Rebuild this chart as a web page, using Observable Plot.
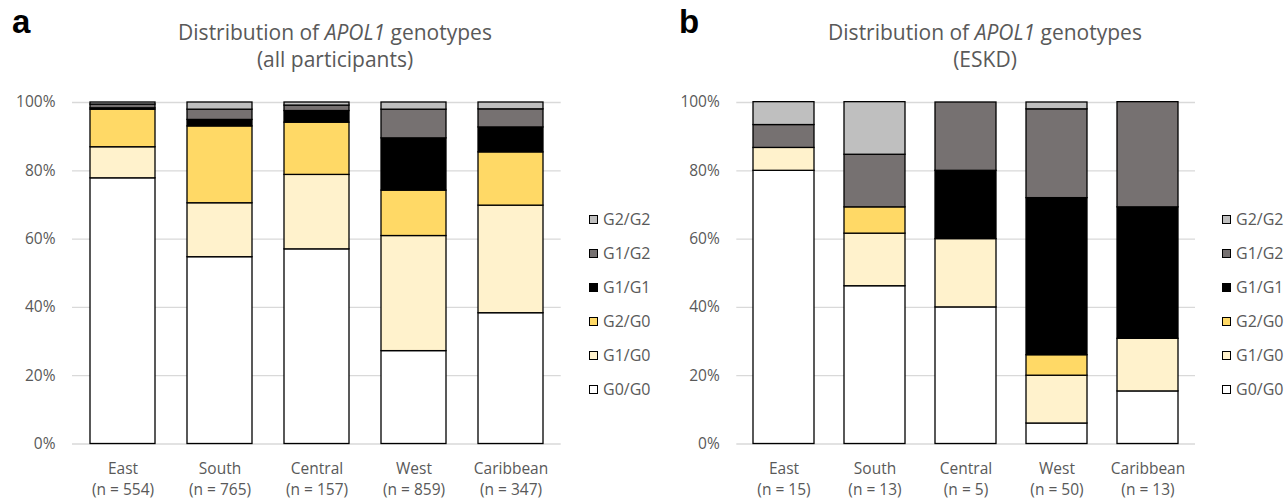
<!DOCTYPE html>
<html>
<head>
<meta charset="utf-8">
<script src="https://cdn.jsdelivr.net/npm/d3@7"></script>
<script src="https://cdn.jsdelivr.net/npm/@observablehq/plot@0.6"></script>
<style>
  html, body { margin: 0; padding: 0; background: #fff; }
  #root { position: relative; width: 1288px; height: 499px; overflow: hidden; font-family: "Open Sans", sans-serif; color: #595959; }
  .panel { position: absolute; top: 0; }
  .title { position: absolute; font-size: 21px; line-height: 27px; white-space: nowrap; transform: translateX(-50%); text-align: center; color: #595959; }
  .letter { position: absolute; font-family: "Liberation Sans", Arial, sans-serif; font-weight: bold; font-size: 33px; line-height: 33px; color: #000; }
  .legend { position: absolute; font-size: 16px; color: #595959; }
  .legend .item { display: flex; align-items: center; height: 34px; }
  .legend .sw { width: 7px; height: 7px; border: 1px solid #000; margin-right: 5px; box-sizing: content-box; }
</style>
</head>
<body>
<div id="root"></div>
<script>
// ---- data ----
const regions = ["East", "South", "Central", "West", "Caribbean"];
const genotypes = ["G0/G0", "G1/G0", "G2/G0", "G1/G1", "G1/G2", "G2/G2"];
const genotypeColors = ["#ffffff", "#fff2cc", "#ffd966", "#000000", "#767171", "#bfbfbf"];
const yTicks = [0, 20, 40, 60, 80, 100];

// Panel a: all participants (% of each region)
const nAll = [554, 765, 157, 859, 347];
const allG0G0 = [77.8, 54.7, 57.0, 27.2, 38.3];
const allG1G0 = [9.1, 15.8, 21.8, 33.7, 31.5];
const allG2G0 = [11.0, 22.5, 15.3, 13.3, 15.6];
const allG1G1 = [0.4, 1.9, 3.4, 15.3, 7.3];
const allG1G2 = [1.1, 3.0, 1.6, 8.4, 5.3];
const allG2G2 = [0.6, 2.1, 0.9, 2.1, 2.0];

// Panel b: ESKD (% of each region)
const nEskd = [15, 13, 5, 50, 13];
const eskdG0G0 = [80.0, 46.2, 40.0, 6.0, 15.4];
const eskdG1G0 = [6.7, 15.4, 20.0, 14.0, 15.4];
const eskdG2G0 = [0, 7.7, 0, 6.0, 0];
const eskdG1G1 = [0, 0, 20.0, 46.0, 38.5];
const eskdG1G2 = [6.7, 15.4, 20.0, 26.0, 30.8];
const eskdG2G2 = [6.7, 15.4, 0, 2.0, 0];

function toLong(series) {
  const rows = [];
  regions.forEach((r, i) => {
    genotypes.forEach((g, j) => {
      const v = series[j][i];
      if (v > 0) rows.push({region: r, genotype: g, value: v});
    });
  });
  return rows;
}

function chart(series, ns, opts) {
  const data = toLong(series);
  const svg = Plot.plot({
    width: 644,
    height: 499,
    marginLeft: opts.marginLeft,
    marginRight: opts.marginRight,
    marginTop: 102,
    marginBottom: 55.5,
    style: {fontFamily: "Open Sans, sans-serif", fontSize: "15.5px", color: "#595959", background: "transparent", overflow: "visible"},
    x: {type: "band", domain: regions, paddingInner: 0.33, paddingOuter: 0.165, axis: null, label: null},
    y: {domain: [0, 100], axis: null, label: null},
    color: {domain: genotypes, range: genotypeColors},
    marks: [
      Plot.gridY(yTicks, {stroke: "#d9d9d9", strokeOpacity: 1, strokeWidth: 1.3}),
      Plot.barY(data, {x: "region", y: "value", fill: "genotype", stroke: "#000", strokeWidth: 1.3, order: genotypes}),
      Plot.axisY(yTicks, {tickSize: 0, tickPadding: 17, label: null, tickFormat: d => d + "%", fontSize: 15.5, fill: "#595959"}),
      Plot.axisX({tickSize: 0, tickPadding: 15, label: null, fontSize: 15.5, lineHeight: 1.36, fill: "#595959",
        tickFormat: (d) => d + "\n(n = " + ns[regions.indexOf(d)] + ")"})
    ]
  });
  svg.classList.add("panel");
  svg.style.left = opts.left + "px";
  return svg;
}

const root = document.getElementById("root");
root.appendChild(chart([allG0G0, allG1G0, allG2G0, allG1G1, allG1G2, allG2G2], nAll, {left: 0, marginLeft: 72, marginRight: 83.3}));
root.appendChild(chart([eskdG0G0, eskdG1G0, eskdG2G0, eskdG1G1, eskdG1G2, eskdG2G2], nEskd, {left: 644, marginLeft: 92.3, marginRight: 93}));

function addTitle(cx, sub) {
  const t1 = document.createElement("div");
  t1.className = "title";
  t1.style.left = cx + "px"; t1.style.top = "19px";
  t1.innerHTML = "Distribution of <i>APOL1</i> genotypes";
  const t2 = document.createElement("div");
  t2.className = "title";
  t2.style.left = cx + "px"; t2.style.top = "46px";
  t2.textContent = sub;
  root.appendChild(t1); root.appendChild(t2);
}
addTitle(335, "(all participants)");
addTitle(985, "(ESKD)");

function addLetter(x, s) {
  const d = document.createElement("div");
  d.className = "letter"; d.style.left = x + "px"; d.style.top = "5px"; d.textContent = s;
  root.appendChild(d);
}
addLetter(12, "a");
addLetter(679, "b");

function addLegend(x) {
  const lg = document.createElement("div");
  lg.className = "legend"; lg.style.left = x + "px"; lg.style.top = "202px";
  for (let j = genotypes.length - 1; j >= 0; j--) {
    const it = document.createElement("div"); it.className = "item";
    const sw = document.createElement("div"); sw.className = "sw"; sw.style.background = genotypeColors[j];
    const tx = document.createElement("span"); tx.textContent = genotypes[j];
    it.appendChild(sw); it.appendChild(tx); lg.appendChild(it);
  }
  root.appendChild(lg);
}
addLegend(589);
addLegend(1222);
</script>
</body>
</html>
